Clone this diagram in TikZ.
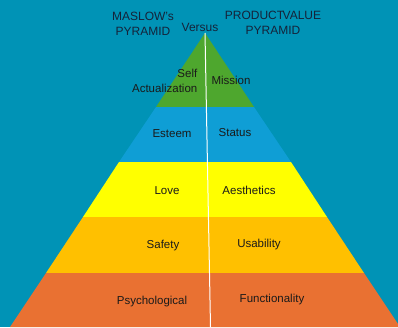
\documentclass[tikz,border=0pt]{standalone}
\usepackage{fontspec}
\setmainfont{Liberation Sans}
\definecolor{bg}{HTML}{0093B6}
\definecolor{lvA}{HTML}{4EA72E}
\definecolor{lvB}{HTML}{0F9ED5}
\definecolor{lvC}{HTML}{FFFF00}
\definecolor{lvD}{HTML}{FFC000}
\definecolor{lvE}{HTML}{E97132}
\definecolor{ink}{HTML}{15233A}
\definecolor{lab}{HTML}{1A1A1A}
\begin{document}
\begin{tikzpicture}[x=1pt,y=-1pt,
  title/.style={font=\fontsize{12}{15.5}\selectfont, text=ink, align=center, inner sep=0pt},
  lbl/.style={font=\fontsize{11.5}{15}\selectfont, text=lab, inner sep=0pt}]
\useasboundingbox (0,0) rectangle (398,327);
\fill[bg] (0,0) rectangle (398,327);
% bands
\fill[lvA] (205,33) -- (254,107) -- (156,107) -- cycle;
\fill[lvB] (156,107) -- (254,107) -- (291,162) -- (119,162) -- cycle;
\fill[lvC] (119,162) -- (291,162) -- (327,217) -- (83,217) -- cycle;
\fill[lvD] (83,217) -- (327,217) -- (364,273) -- (46,273) -- cycle;
\fill[lvE] (46,273) -- (364,273) -- (400,327) -- (10,327) -- cycle;
% divider
\coordinate (top) at (205,33);
\coordinate (bot) at (210.5,327);
\draw[white, line width=1pt] (top) -- (bot);
% titles
\node[title] (maslow) at (143,24) {MASLOW's\\PYRAMID};
\node[title] (versus) at (200,27) {Versus};
\node[title] (pvp) at (273,23) {PRODUCT\kern-1.5pt VALUE\\PYRAMID};
% labels
\node[lbl, align=right, anchor=east] (self) at (197.5,80.5) {Self\\Actualization};
\node[lbl] (mission) at (231,80) {Mission};
\node[lbl] (esteem) at (172,134) {Esteem};
\node[lbl] (status) at (235,133) {Status};
\node[lbl] (love) at (167,191) {Love};
\node[lbl] (aest) at (249,190) {Aesthetics};
\node[lbl] (safety) at (163,246) {Safety};
\node[lbl] (usab) at (259,245) {Usability};
\node[lbl] (psych) at (152,302) {Psychological};
\node[lbl] (func) at (272,300) {Functionality};
\end{tikzpicture}
\end{document}
